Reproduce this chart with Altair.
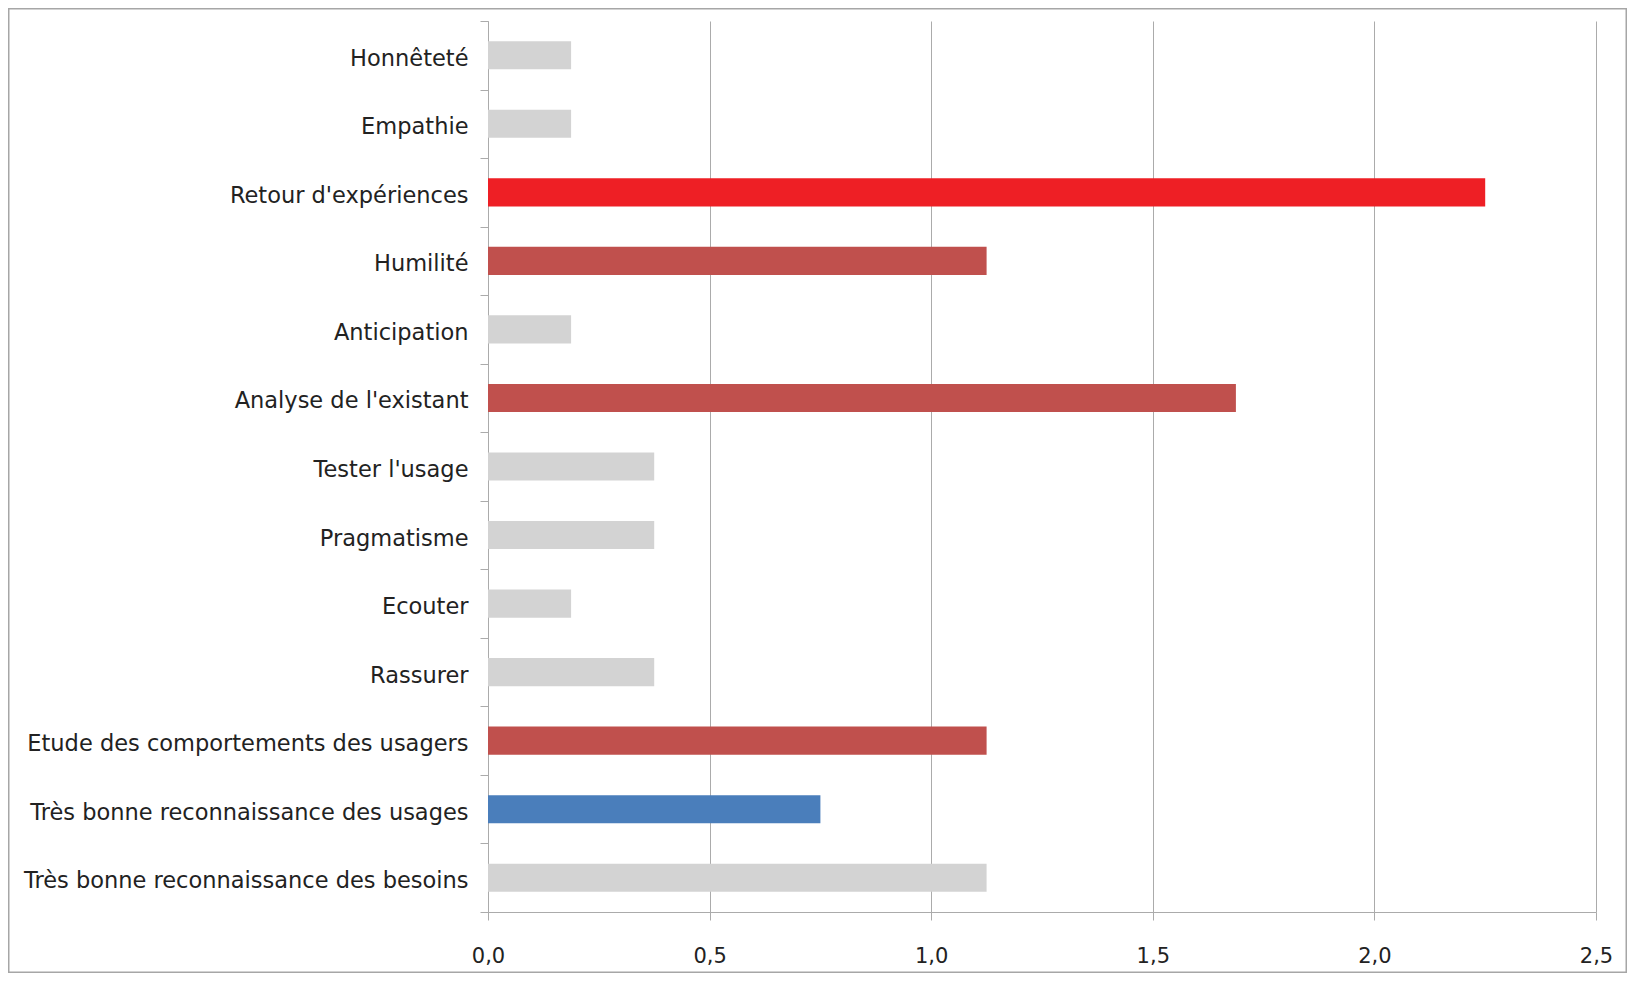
import altair as alt
import pandas as pd

categories = [
    "Honnêteté",
    "Empathie",
    "Retour d'expériences",
    "Humilité",
    "Anticipation",
    "Analyse de l'existant",
    "Tester l'usage",
    "Pragmatisme",
    "Ecouter",
    "Rassurer",
    "Etude des comportements des usagers",
    "Très bonne reconnaissance des usages",
    "Très bonne reconnaissance des besoins",
]
values = [0.1875, 0.1875, 2.25, 1.125, 0.1875, 1.6875, 0.375, 0.375,
          0.1875, 0.375, 1.125, 0.75, 1.125]
groups = ["neutre", "neutre", "fort", "moyen", "neutre", "moyen", "neutre",
          "neutre", "neutre", "neutre", "moyen", "autre", "neutre"]
group_names = ["neutre", "fort", "moyen", "autre"]
group_colors = ["#D3D3D3", "#EE1F25", "#C0504D", "#4A7EBB"]
x_ticks = [0, 0.5, 1.0, 1.5, 2.0, 2.5]

df = pd.DataFrame({"cat": categories, "val": values, "grp": groups})

GRAY = "#ABABAB"
FONT = "DejaVu Sans"

bars = alt.Chart(df).mark_bar(height={"band": 0.41}).encode(
    y=alt.Y(
        "cat:N",
        sort=categories,
        title=None,
        scale=alt.Scale(paddingInner=0, paddingOuter=0),
        axis=alt.Axis(
            tickBand="extent",
            tickSize=8,
            tickColor=GRAY,
            domainColor=GRAY,
            labelFont=FONT,
            labelFontSize=22.5,
            labelColor="#222222",
            labelPadding=12,
            labelOffset=3,
            labelLimit=0,
            grid=False,
        ),
    ),
    x=alt.X(
        "val:Q",
        title=None,
        scale=alt.Scale(domain=[0, 2.5], nice=False),
        axis=alt.Axis(
            values=x_ticks,
            labelExpr="replace(format(datum.value, '.1f'), '.', ',')",
            labelFlush=False,
            grid=True,
            gridColor=GRAY,
            tickSize=8,
            tickColor=GRAY,
            domainColor=GRAY,
            labelFont=FONT,
            labelFontSize=21,
            labelColor="#222222",
            labelPadding=25,
        ),
    ),
    color=alt.Color(
        "grp:N",
        scale=alt.Scale(domain=group_names, range=group_colors),
        legend=None,
    ),
)

border = alt.Chart(pd.DataFrame({"b": [0]})).mark_rect(
    fillOpacity=0, stroke="#A6A6A6", strokeWidth=1.5
).encode(
    x=alt.value(-479.25),
    x2=alt.value(1138.25),
    y=alt.value(-12.25),
    y2=alt.value(951.25),
)

chart = alt.layer(bars, border).properties(
    width=1108,
    height=891,
    autosize=alt.AutoSizeParams(type="none"),
    padding={"left": 480, "top": 13, "right": 31, "bottom": 61},
).configure_view(stroke=None)

chart.save("out.html", embed_options={"renderer": "svg", "actions": False})
